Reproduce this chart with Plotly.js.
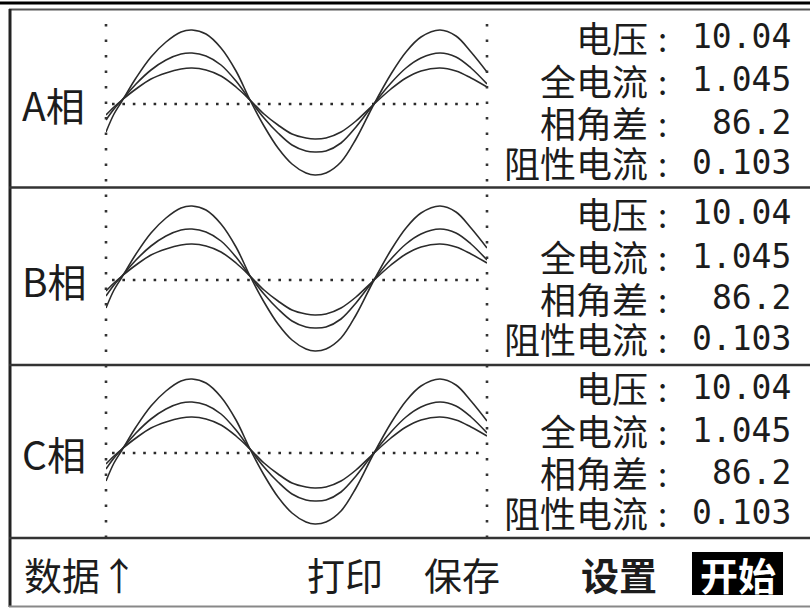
<!DOCTYPE html>
<html><head><meta charset="utf-8">
<script src="https://cdn.plot.ly/plotly-3.0.1.min.js"></script>
<style>html,body{margin:0;padding:0;background:#fff;} #chart{width:810px;height:608px;}</style>
</head><body><div id="chart"></div>
<script>
// ---- data ----
const phases = ['A相', 'B相', 'C相'];
const fieldLabels = ['电压', '全电流', '相角差', '阻性电流'];
const voltage = [10.04, 10.04, 10.04];
const totalCurrent = [1.045, 1.045, 1.045];
const phaseAngle = [86.2, 86.2, 86.2];
const resistiveCurrent = [0.103, 0.103, 0.103];
const menuItems = ['数据↑', '打印', '保存', '设置', '开始'];

// waveform samples (time index, display units above the dotted zero line)
const tSamples = [0, 8, 16, 30, 45, 60, 75, 86, 100, 115, 130, 144, 158, 172, 186, 200, 209, 220, 235, 250, 267, 285, 300, 315, 334, 350, 365, 381];
const waveLarge = [-28, -10, 3, 26, 47, 62, 72, 74, 70, 56, 33, 4, -22, -44, -60, -69, -71, -69, -58, -35, -2, 30, 52, 67, 74, 68, 52, 32];
const waveMid   = [-16, -5, 4, 20, 34, 44, 50, 51, 48, 39, 23, 4, -14, -29, -41, -47, -48, -47, -39, -23, -1, 21, 36, 46, 51, 47, 36, 20];
const waveSmall = [-11, -3, 4, 15, 25, 31, 35, 36, 34, 28, 17, 4, -10, -21, -30, -34, -35, -34, -28, -17, -1, 15, 26, 33, 36, 33, 26, 17];

// ---- geometry (pixels) ----
const W = 810, H = 608;
const px = v => v / W;
const py = v => 1 - v / H;
const panels = [
  {top: 9, bottom: 187, center: 104, rows: [37, 80, 122, 162]},
  {top: 188, bottom: 365, center: 280, rows: [213, 256, 298, 338]},
  {top: 366, bottom: 537, center: 453, rows: [387, 430, 472, 512]}
];
const waveLeft = 106, waveRight = 487;
const ink = '#1c1c1c';
const cjk = '"Noto Sans CJK SC", "Noto Sans CJK JP", sans-serif';
const mono = '"DejaVu Sans Mono", "Liberation Mono", monospace';

const data = [];
const layout = {
  width: W, height: H,
  margin: {l: 0, r: 0, t: 0, b: 0, pad: 0},
  paper_bgcolor: '#ffffff', plot_bgcolor: 'rgba(0,0,0,0)',
  showlegend: false,
  shapes: [], annotations: []
};

function ann(text, x, y, xanchor, size, family, extra) {
  layout.annotations.push(Object.assign({
    text: text, xref: 'paper', yref: 'paper', x: px(x), y: py(y),
    xanchor: xanchor, yanchor: 'middle', showarrow: false, borderpad: 0,
    font: {family: family, size: size, color: ink}
  }, extra || {}));
}
function line(x0, y0, x1, y1, color, width, dash) {
  layout.shapes.push({type: 'line', xref: 'paper', yref: 'paper',
    x0: px(x0), y0: py(y0), x1: px(x1), y1: py(y1),
    line: {color: color, width: width, dash: dash || 'solid'}, layer: 'above'});
}

const fmt = [v => v.toFixed(2), v => v.toFixed(3), v => v.toFixed(1), v => v.toFixed(3)];
const values = [voltage, totalCurrent, phaseAngle, resistiveCurrent];

panels.forEach((p, i) => {
  const n = i === 0 ? '' : String(i + 1);
  layout['xaxis' + n] = {domain: [px(waveLeft), px(waveRight)], range: [0, 381], visible: false, fixedrange: true, anchor: 'y' + n};
  layout['yaxis' + n] = {domain: [py(p.bottom), py(p.top)], range: [-(p.bottom - p.center), p.center - p.top], visible: false, fixedrange: true, anchor: 'x' + n};
  [waveLarge, waveMid, waveSmall].forEach(w => {
    data.push({type: 'scatter', mode: 'lines', x: tSamples, y: w,
      xaxis: 'x' + n, yaxis: 'y' + n, hoverinfo: 'skip',
      line: {color: '#2b2b2b', width: 1.6, shape: 'spline', smoothing: 1}});
  });
  // zero dotted line
  line(112, p.center, 486, p.center, '#2a2a2a', 2.6, '2.6px,7.8px');
  // phase label
  ann(phases[i], 21, p.center, 'left', 39, cjk);
  // readings
  fieldLabels.forEach((lab, k) => {
    ann(lab, 649, p.rows[k], 'right', 36, cjk);
    ann(':', 662, p.rows[k] + 1, 'center', 33, cjk);
    ann(fmt[k](values[k][i]), 792, p.rows[k], 'right', 33, mono);
  });
});

// frame
line(0, 3, 810, 3, '#000000', 3);
line(9, 9.5, 810, 9.5, '#555555', 2);
line(10, 9, 10, 607, '#222222', 3);
line(9, 187.5, 810, 187.5, '#333333', 2.6);
line(9, 365, 810, 365, '#333333', 2.6);
line(9, 538, 810, 538, '#333333', 2.6);
line(9, 606.5, 810, 606.5, '#888888', 2);
// vertical dotted lines
line(waveLeft, 24, waveLeft, 540, '#333333', 2.6, '2.6px,12.9px');
line(waveRight, 24, waveRight, 540, '#333333', 2.6, '2.6px,12.9px');
// highlighted "start" key
layout.shapes.push({type: 'rect', xref: 'paper', yref: 'paper',
  x0: px(692), x1: px(783), y0: py(595), y1: py(552),
  fillcolor: '#000000', line: {width: 0}, layer: 'below'});

// bottom menu
const menuY = 573;
ann(menuItems[0], 23, menuY, 'left', 38, cjk);
ann(menuItems[1], 306, menuY, 'left', 38, cjk);
ann(menuItems[2], 423, menuY, 'left', 38, cjk);
ann('<b>' + menuItems[3] + '</b>', 580, menuY, 'left', 38, cjk);
ann('<b>' + menuItems[4] + '</b>', 737.5, menuY, 'center', 38, cjk, {font: {family: cjk, size: 38, color: '#ffffff'}});

Plotly.newPlot('chart', data, layout, {staticPlot: true, displayModeBar: false});
</script></body></html>
